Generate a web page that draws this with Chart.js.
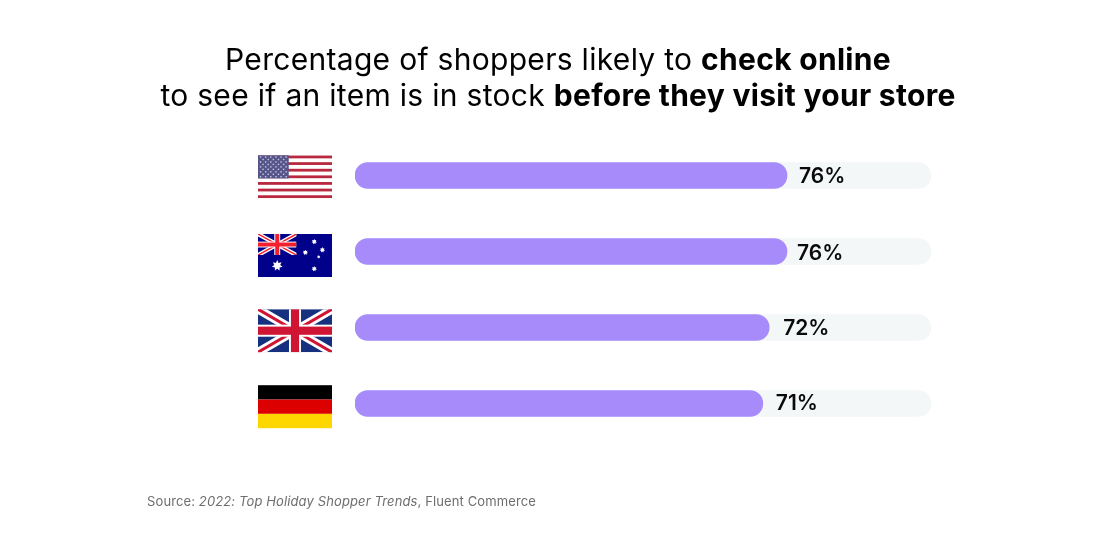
<!DOCTYPE html>
<html><head><meta charset="utf-8">
<style>html,body{margin:0;padding:0;background:#fff}canvas{display:block}</style>
<script src="https://cdn.jsdelivr.net/npm/chart.js@4/dist/chart.umd.min.js"></script>
</head><body><canvas id="c" width="1110" height="540"></canvas>
<script>
const countries = ["United States","Australia","United Kingdom","Germany"];
const flagKinds = ["us","au","uk","de"];
const barLengths = [75,75,71.9,70.8];
const trackValues = [100,100,100,100];
const valueLabels = ["76%","76%","72%","71%"];
const labelNudges = [12,10,14,13];
const labelLifts = [1,2,1,0.5];
const flagNudges = [1.3,4,3.2,3.2];
const titleLine1 = [["Percentage of shoppers likely to ",false],["check online",true]];
const titleLine2 = [["to see if an item is in stock ",false],["before they visit your store",true]];
const sourceParts = [["Source: ","normal"],["2022: Top Holiday Shopper Trends","italic"],[", Fluent Commerce","normal"]];

function star(ctx,x,y,r,n,k){ctx.beginPath();for(let i=0;i<n*2;i++){const a=-Math.PI/2+i*Math.PI/n,R=i%2?r*k:r;ctx.lineTo(x+R*Math.cos(a),y+R*Math.sin(a));}ctx.closePath();ctx.fill();}
function union(ctx,x,y,w,h,navy,red){
  ctx.save();ctx.beginPath();ctx.rect(x,y,w,h);ctx.clip();
  ctx.fillStyle=navy;ctx.fillRect(x,y,w,h);
  ctx.lineCap="butt";
  ctx.strokeStyle="#fff";ctx.lineWidth=h*0.2;
  ctx.beginPath();ctx.moveTo(x,y);ctx.lineTo(x+w,y+h);ctx.moveTo(x+w,y);ctx.lineTo(x,y+h);ctx.stroke();
  ctx.strokeStyle=red;ctx.lineWidth=h*0.07;
  ctx.beginPath();ctx.moveTo(x,y);ctx.lineTo(x+w,y+h);ctx.moveTo(x+w,y);ctx.lineTo(x,y+h);ctx.stroke();
  ctx.fillStyle="#fff";
  ctx.fillRect(x+w/2-h*0.14,y,h*0.28,h);ctx.fillRect(x,y+h/2-h*0.14,w,h*0.28);
  ctx.fillStyle=red;
  ctx.fillRect(x+w/2-h*0.095,y,h*0.19,h);ctx.fillRect(x,y+h/2-h*0.095,w,h*0.19);
  ctx.restore();
}
const flagDraw={
  us(ctx,x,y,w,h){
    ctx.fillStyle="#fff";ctx.fillRect(x,y,w,h);
    ctx.fillStyle="#b8283f";
    for(let i=0;i<13;i+=2)ctx.fillRect(x,y+(i+0.08)*h/13,w,h/13*0.84);
    const cw=w*0.415,ch=h*7/13;
    ctx.fillStyle="#55558a";ctx.fillRect(x,y,cw,ch);
    ctx.fillStyle="#c9c9e0";
    for(let r=0;r<9;r++){const n=r%2?5:6;for(let c=0;c<n;c++){
      ctx.fillRect(x+(c+(r%2?1:0.5))*cw/6-0.7,y+(r+0.7)*ch/9.4-0.7,1.4,1.4);}}
  },
  au(ctx,x,y,w,h){
    ctx.fillStyle="#00008b";ctx.fillRect(x,y,w,h);
    union(ctx,x,y,w*0.52,h*0.49,"#00008b","#f5202d");
    ctx.fillStyle="#fff";
    star(ctx,x+w*0.26,y+h*0.735,5.5,7,0.55);
    [[0.76,0.18,2.8],[0.87,0.37,2.8],[0.64,0.43,2.8],[0.82,0.53,1.8],[0.76,0.81,2.8]].forEach(s=>star(ctx,x+w*s[0],y+h*s[1],s[2],7,0.55));
  },
  uk(ctx,x,y,w,h){union(ctx,x,y,w,h,"#14307f","#cf1434");},
  de(ctx,x,y,w,h){
    ctx.fillStyle="#000";ctx.fillRect(x,y,w,h/3);
    ctx.fillStyle="#dd0000";ctx.fillRect(x,y+h/3,w,h/3);
    ctx.fillStyle="#ffd700";ctx.fillRect(x,y+2*h/3,w,h/3);
  }
};
function mixedLine(ctx,parts,cx,y){
  let total=0;
  ctx.letterSpacing="0.3px";
  const f=b=>(b?"700":"400")+" 30px Inter, sans-serif";
  parts.forEach(p=>{ctx.font=f(p[1]);total+=ctx.measureText(p[0]).width;});
  let x=cx-total/2;
  parts.forEach(p=>{ctx.font=f(p[1]);ctx.fillText(p[0],x,y);x+=ctx.measureText(p[0]).width;});
  ctx.letterSpacing="0px";
}
const decor={
  id:"decor",
  afterDraw(chart){
    const ctx=chart.ctx,meta=chart.getDatasetMeta(1);
    ctx.save();
    ctx.textBaseline="alphabetic";ctx.textAlign="left";ctx.fillStyle="#000";
    mixedLine(ctx,titleLine1,558,70);
    mixedLine(ctx,titleLine2,558,106);
    meta.data.forEach((bar,i)=>{
      ctx.font="600 21px Inter, sans-serif";ctx.fillStyle="#0a0a0a";
      ctx.textBaseline="middle";
      ctx.fillText(valueLabels[i],bar.x+labelNudges[i],bar.y+labelLifts[i]);
      flagDraw[flagKinds[i]](ctx,258,bar.y+flagNudges[i]-21.5,74,43);
    });
    ctx.textBaseline="alphabetic";
    ctx.letterSpacing="0.12px";
    let x=147;
    sourceParts.forEach(p=>{
      ctx.font=p[1]+" 400 13px Inter, sans-serif";ctx.fillStyle="#6e6e6e";
      ctx.fillText(p[0],x,506);x+=ctx.measureText(p[0]).width;
    });
    ctx.restore();
  }
};
Chart.defaults.font.family="Inter, sans-serif";
new Chart(document.getElementById("c"),{
  type:"bar",
  data:{labels:countries,datasets:[
    {label:"Track",data:trackValues,backgroundColor:"#f4f7f8",borderRadius:13,borderSkipped:false,barThickness:26,grouped:false,order:2},
    {label:"Share of shoppers",data:barLengths,backgroundColor:"#a78bfa",borderRadius:13,borderSkipped:false,barThickness:26,grouped:false,order:1}
  ]},
  options:{
    indexAxis:"y",responsive:false,animation:false,devicePixelRatio:1,
    layout:{padding:{left:355,right:179,top:137.5,bottom:98.5}},
    plugins:{legend:{display:false},tooltip:{enabled:false},title:{display:false}},
    scales:{
      x:{display:false,min:0,max:100},
      y:{display:false,grid:{display:false}}
    }
  },
  plugins:[decor]
});
</script></body></html>
